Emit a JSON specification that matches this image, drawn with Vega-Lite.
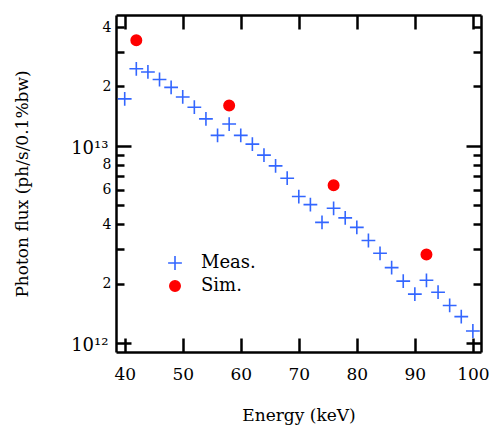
{
  "$schema": "https://vega.github.io/schema/vega-lite/v6.json",
  "width": 365,
  "height": 337,
  "autosize": {"type": "none"},
  "padding": {"left": 116, "top": 15, "right": 9, "bottom": 73},
  "background": "white",
  "config": {
    "view": {"stroke": null},
    "font": "DejaVu Serif",
    "axis": {
      "domainColor": "black", "domainWidth": 2.5, "tickColor": "black", "tickWidth": 2.5,
      "labelColor": "black", "titleColor": "black", "grid": false,
      "labelFont": "DejaVu Serif", "titleFont": "DejaVu Serif", "titleFontWeight": "normal",
      "labelFlush": false, "labelOverlap": false, "labelBound": false
    },
    "legend": {"labelFont": "DejaVu Serif"}
  },
  "data": {
    "values": [
      {"series": "Meas.", "energy": 40, "flux": 1.73e13},
      {"series": "Meas.", "energy": 42, "flux": 2.46e13},
      {"series": "Meas.", "energy": 44, "flux": 2.37e13},
      {"series": "Meas.", "energy": 46, "flux": 2.17e13},
      {"series": "Meas.", "energy": 48, "flux": 1.98e13},
      {"series": "Meas.", "energy": 50, "flux": 1.77e13},
      {"series": "Meas.", "energy": 52, "flux": 1.57e13},
      {"series": "Meas.", "energy": 54, "flux": 1.37e13},
      {"series": "Meas.", "energy": 56, "flux": 1.13e13},
      {"series": "Meas.", "energy": 58, "flux": 1.29e13},
      {"series": "Meas.", "energy": 60, "flux": 1.13e13},
      {"series": "Meas.", "energy": 62, "flux": 1.02e13},
      {"series": "Meas.", "energy": 64, "flux": 8.97e12},
      {"series": "Meas.", "energy": 66, "flux": 7.91e12},
      {"series": "Meas.", "energy": 68, "flux": 6.85e12},
      {"series": "Meas.", "energy": 70, "flux": 5.53e12},
      {"series": "Meas.", "energy": 72, "flux": 5.03e12},
      {"series": "Meas.", "energy": 74, "flux": 4.09e12},
      {"series": "Meas.", "energy": 76, "flux": 4.82e12},
      {"series": "Meas.", "energy": 78, "flux": 4.31e12},
      {"series": "Meas.", "energy": 80, "flux": 3.86e12},
      {"series": "Meas.", "energy": 82, "flux": 3.31e12},
      {"series": "Meas.", "energy": 84, "flux": 2.85e12},
      {"series": "Meas.", "energy": 86, "flux": 2.41e12},
      {"series": "Meas.", "energy": 88, "flux": 2.06e12},
      {"series": "Meas.", "energy": 90, "flux": 1.77e12},
      {"series": "Meas.", "energy": 92, "flux": 2.08e12},
      {"series": "Meas.", "energy": 94, "flux": 1.81e12},
      {"series": "Meas.", "energy": 96, "flux": 1.55e12},
      {"series": "Meas.", "energy": 98, "flux": 1.36e12},
      {"series": "Meas.", "energy": 100, "flux": 1.15e12},
      {"series": "Sim.", "energy": 42, "flux": 3.43e13},
      {"series": "Sim.", "energy": 58, "flux": 1.60e13},
      {"series": "Sim.", "energy": 76, "flux": 6.31e12},
      {"series": "Sim.", "energy": 92, "flux": 2.81e12}
    ]
  },
  "layer": [
    {
      "mark": {"type": "point", "filled": true, "strokeWidth": 1.6, "opacity": 1},
      "encoding": {
        "x": {
          "field": "energy", "type": "quantitative",
          "scale": {"domain": [38.5, 101.4], "nice": false, "zero": false},
          "axis": {
            "orient": "bottom", "values": [40, 50, 60, 70, 80, 90, 100],
            "tickSize": -14, "labelPadding": 28, "labelFontSize": 17,
            "title": "Energy (keV)", "titleFontSize": 17,
            "titleX": 182.5, "titleY": 68, "titleBaseline": "alphabetic", "titleAlign": "center"
          }
        },
        "y": {
          "field": "flux", "type": "quantitative",
          "scale": {"type": "log", "domain": [9.0e11, 4.61e13], "nice": false},
          "axis": {
            "orient": "left",
            "values": [1e12, 2e12, 3e12, 4e12, 5e12, 6e12, 7e12, 8e12, 9e12, 1e13, 2e13, 3e13, 4e13],
            "tickSize": {"condition": {"test": "datum.value == 1e12 || datum.value == 1e13", "value": -15}, "value": -8},
            "labelPadding": {"condition": {"test": "datum.value == 1e12 || datum.value == 1e13", "value": 23}, "value": 13},
            "labelFontSize": {"condition": {"test": "datum.value == 1e12 || datum.value == 1e13", "value": 18}, "value": 14},
            "labelOffset": {"condition": {"test": "datum.value == 1e12 || datum.value == 1e13", "value": 3}, "value": 0},
            "labelExpr": "datum.value == 1e12 ? '10¹²' : datum.value == 1e13 ? '10¹³' : (datum.value == 2e12 || datum.value == 2e13) ? '2' : (datum.value == 4e12 || datum.value == 4e13) ? '4' : datum.value == 6e12 ? '6' : datum.value == 8e12 ? '8' : ''",
            "title": "Photon flux (ph/s/0.1%bw)", "titleFontSize": 17,
            "titleX": -85, "titleY": 168.5, "titleAngle": -90, "titleBaseline": "bottom", "titleAlign": "center"
          }
        },
        "shape": {
          "field": "series", "type": "nominal",
          "scale": {"domain": ["Meas.", "Sim."], "range": ["M-1,0H1M0,-1V1", "circle"]},
          "legend": {
            "orient": "none", "legendX": 50, "legendY": 239, "title": null, "padding": 0,
            "labelFontSize": 18, "labelColor": "black",
            "labelOffset": 17, "rowPadding": 3, "symbolStrokeWidth": 1.6
          }
        },
        "color": {
          "field": "series", "type": "nominal",
          "scale": {"domain": ["Meas.", "Sim."], "range": ["#3366ff", "#ff0000"]}
        },
        "stroke": {
          "field": "series", "type": "nominal",
          "scale": {"domain": ["Meas.", "Sim."], "range": ["#3366ff", "#ff0000"]}
        },
        "size": {
          "field": "series", "type": "nominal",
          "scale": {"domain": ["Meas.", "Sim."], "range": [190, 108]}
        }
      }
    },
    {
      "mark": {"type": "point", "opacity": 0},
      "encoding": {
        "x": {
          "field": "energy", "type": "quantitative",
          "axis": {"orient": "top", "values": [40, 50, 60, 70, 80, 90, 100], "tickSize": -14, "labels": false, "title": null}
        },
        "y": {
          "field": "flux", "type": "quantitative",
          "axis": {
            "orient": "right",
            "values": [1e12, 2e12, 3e12, 4e12, 5e12, 6e12, 7e12, 8e12, 9e12, 1e13, 2e13, 3e13, 4e13],
            "tickSize": {"condition": {"test": "datum.value == 1e12 || datum.value == 1e13", "value": -15}, "value": -8},
            "labels": false, "title": null
          }
        }
      }
    }
  ],
  "resolve": {"axis": {"x": "independent", "y": "independent"}}
}
